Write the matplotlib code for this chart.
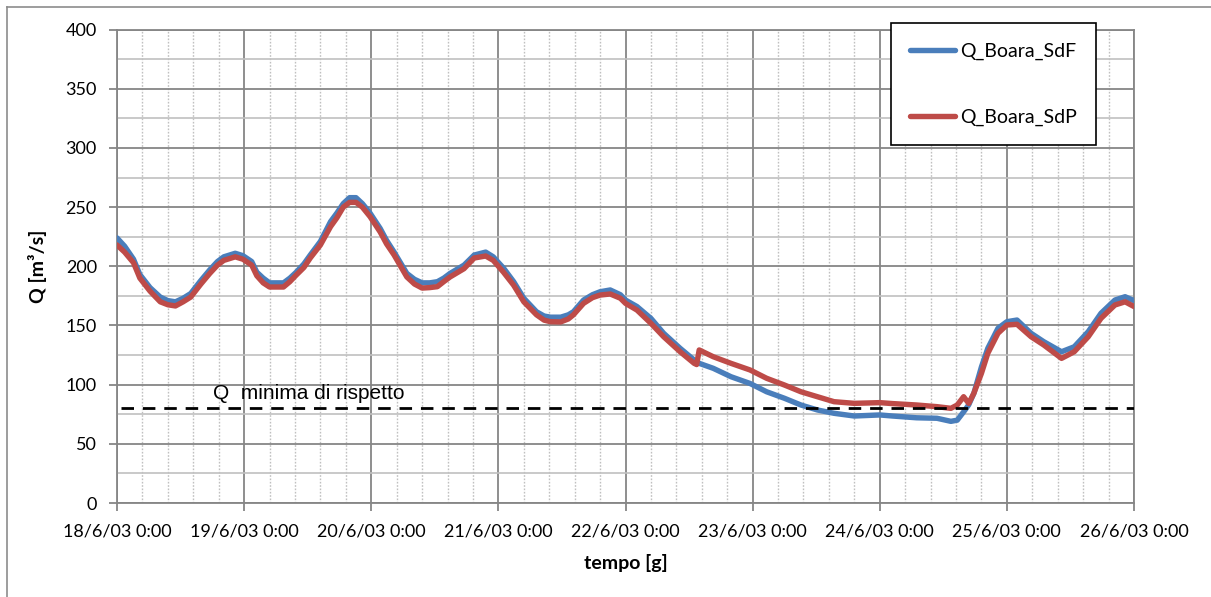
import numpy as np
import matplotlib
matplotlib.use("Agg")
import matplotlib.pyplot as plt
import matplotlib.dates as mdates
from matplotlib.ticker import MultipleLocator
from matplotlib.lines import Line2D

# --- data -----------------------------------------------------------------
start = np.datetime64("2003-06-18T00:00")

# time offsets in days from 18/6/03 0:00
giorni_sdf = [0.00, 0.06, 0.13, 0.18, 0.26, 0.34, 0.40, 0.46, 0.52, 0.58, 0.66, 0.73,
              0.79, 0.84, 0.93, 0.99, 1.06, 1.10, 1.15, 1.20, 1.31, 1.36, 1.41, 1.47,
              1.52, 1.60, 1.68, 1.73, 1.78, 1.83, 1.88, 1.93, 1.99, 2.07, 2.12, 2.18,
              2.28, 2.34, 2.40, 2.46, 2.52, 2.57, 2.62, 2.73, 2.81, 2.90, 2.96, 3.04,
              3.12, 3.20, 3.30, 3.36, 3.41, 3.49, 3.55, 3.59, 3.67, 3.74, 3.80, 3.88,
              3.96, 4.00, 4.09, 4.20, 4.30, 4.43, 4.54, 4.58, 4.69, 4.83, 4.98, 5.11,
              5.25, 5.38, 5.51, 5.64, 5.80, 6.00, 6.10, 6.29, 6.45, 6.56, 6.61, 6.66,
              6.70, 6.74, 6.80, 6.85, 6.93, 7.00, 7.08, 7.19, 7.29, 7.43, 7.53, 7.64,
              7.74, 7.85, 7.93, 8.00]
q_sdf = [224, 217, 206, 193, 182, 174, 171, 170, 173, 177, 188, 197,
         204, 208, 211, 209, 204, 195, 190, 186, 186, 190, 195, 202,
         209.5, 221, 237.7, 245, 253, 258, 258, 253, 245, 232, 222, 212,
         194, 189, 186, 186, 187, 190, 194, 201, 209.5, 212, 208, 198.5,
         187, 173, 161.6, 158, 157, 157, 159, 161.6, 171.5, 176, 178.5, 180,
         176, 171.5, 166, 156, 143.4, 130.7, 120.8, 118, 113.8, 106.7, 101, 94,
         88.5, 82.8, 78.6, 75.8, 73.5, 74.4, 73.5, 72, 71.6, 69, 70, 77,
         83, 92.7, 115, 130.7, 147.6, 153.2, 154.6, 143.4, 136.3, 127.8, 132, 144.8,
         160.3, 171.5, 174.3, 171]

giorni_sdp = [0.00, 0.06, 0.13, 0.18, 0.26, 0.34, 0.40, 0.46, 0.52, 0.58, 0.66, 0.73,
              0.79, 0.84, 0.93, 0.99, 1.06, 1.10, 1.15, 1.20, 1.31, 1.36, 1.41, 1.47,
              1.52, 1.60, 1.68, 1.73, 1.78, 1.83, 1.88, 1.93, 1.99, 2.07, 2.12, 2.18,
              2.28, 2.34, 2.40, 2.46, 2.52, 2.57, 2.62, 2.73, 2.81, 2.90, 2.96, 3.04,
              3.12, 3.20, 3.30, 3.36, 3.41, 3.49, 3.55, 3.59, 3.67, 3.74, 3.80, 3.88,
              3.96, 4.00, 4.09, 4.20, 4.30, 4.43, 4.54, 4.56, 4.58, 4.69, 4.83, 4.98,
              5.11, 5.25, 5.38, 5.51, 5.64, 5.80, 6.00, 6.10, 6.29, 6.45, 6.56, 6.61,
              6.66, 6.70, 6.74, 6.80, 6.85, 6.93, 7.00, 7.08, 7.19, 7.29, 7.43, 7.53,
              7.64, 7.74, 7.85, 7.93, 8.00]
q_sdp = [218, 212, 203, 190, 179, 170, 167.5, 166.5, 170, 174, 185, 194,
         201, 205, 208, 206, 201, 192, 186, 182.5, 182.5, 187, 192.6, 199,
         207, 218, 233.5, 241, 250, 254, 254, 250, 242, 229, 219, 209.5,
         191, 185, 181.6, 182, 182.8, 187, 191, 198, 207, 208.7, 205, 195,
         184, 170, 159, 154.5, 153.2, 153, 155.5, 159, 168.7, 173.5, 175.7, 176.6,
         173, 168.7, 163, 151.8, 140.5, 127.8, 118, 117, 129.3, 123.6, 118, 112.4,
         105.4, 99.7, 94, 89.8, 85.6, 84.2, 84.8, 84, 82.8, 81.4, 80, 82.8,
         89.8, 84.2, 92.7, 109.6, 126.5, 143.4, 150.4, 151, 140.5, 133.5, 122.2, 127.8,
         140.5, 156, 167.3, 170, 166]

q_minima = 80.5
etichetta_minima = "Q  minima di rispetto"
serie_nomi = ["Q_Boara_SdF", "Q_Boara_SdP"]


def to_dates(giorni):
    minuti = np.round(np.asarray(giorni) * 24 * 60).astype("int64")
    return start + minuti.astype("timedelta64[m]")


# --- figure ---------------------------------------------------------------
W, H = 1211, 597
fig = plt.figure(figsize=(W / 100, H / 100), dpi=100)
fig.patch.set_facecolor("white")
plt.rcParams["font.family"] = ["Lato", "DejaVu Sans"]

ax = fig.add_axes([117 / W, 1 - 503 / H, (1134 - 117) / W, (503 - 29.6) / H])

grid_dark = "#868686"
grid_light = "#c0c0c0"

t0 = mdates.date2num(start)
ax.set_xlim(t0, t0 + 8)
ax.set_ylim(0, 400)

# grid
ax.xaxis.set_major_locator(mdates.DayLocator())
ax.xaxis.set_major_formatter(mdates.DateFormatter("%-d/%-m/%y %-H:%M"))
ax.xaxis.set_minor_locator(MultipleLocator(0.2))
ax.yaxis.set_major_locator(MultipleLocator(50))
ax.yaxis.set_minor_locator(MultipleLocator(25))

ax.grid(which="major", axis="both", color=grid_dark, lw=1.3, zorder=0)
ax.grid(which="minor", axis="y", color=grid_light, lw=1.2, zorder=0)
ax.grid(which="minor", axis="x", color=grid_light, lw=1.0, ls=(0, (1.2, 1.2)), zorder=0)
ax.set_axisbelow(True)

for s in ax.spines.values():
    s.set_color(grid_dark)
    s.set_linewidth(1.3)

ax.tick_params(which="major", direction="out", length=5.5, width=1.3, color=grid_dark,
               labelsize=13, labelcolor="black")
ax.tick_params(which="minor", length=0)
ax.tick_params(axis="y", pad=9)
ax.tick_params(axis="x", pad=9)

# series
blu = "#4a7ebb"
rosso = "#be4b48"
ax.plot(to_dates(giorni_sdf), q_sdf, color=blu, lw=3.9, solid_capstyle="round",
        solid_joinstyle="round", label=serie_nomi[0], zorder=3)
ax.plot(to_dates(giorni_sdp), q_sdp, color=rosso, lw=3.9, solid_capstyle="round",
        solid_joinstyle="round", label=serie_nomi[1], zorder=4)

# minimum flow line
ax.axhline(q_minima, xmin=0.004, xmax=1, color="black", lw=2.0, ls=(0, (4.5, 3.2)), zorder=5)
ax.text(t0 + 0.755, q_minima + 12, etichetta_minima, fontsize=15,
        family=["Liberation Sans", "DejaVu Sans"], va="center", ha="left", zorder=6)

ax.set_xlabel("tempo [g]", fontsize=14, fontweight="bold", labelpad=11)
ax.set_ylabel("Q [m³/s]", fontsize=14, fontweight="bold", labelpad=13)

leg = ax.legend(loc="upper left", bbox_to_anchor=(891 / W, 1 - 23 / H),
                bbox_transform=fig.transFigure, fontsize=14, frameon=True,
                fancybox=False, shadow=False, framealpha=1, edgecolor="black",
                borderpad=1.0, labelspacing=2.5, handlelength=2.3, handletextpad=0.25,
                borderaxespad=0)
leg.get_frame().set_linewidth(1.2)
leg.set_zorder(10)

# outer chart border
fig.add_artist(Line2D([7 / W, 7 / W], [0, 1 - 7 / H], transform=fig.transFigure,
                      color="#8c8c8c", lw=1.2))
fig.add_artist(Line2D([7 / W, 1], [1 - 7 / H, 1 - 7 / H], transform=fig.transFigure,
                      color="#8c8c8c", lw=1.2))

fig.savefig("out.png", dpi=100)
